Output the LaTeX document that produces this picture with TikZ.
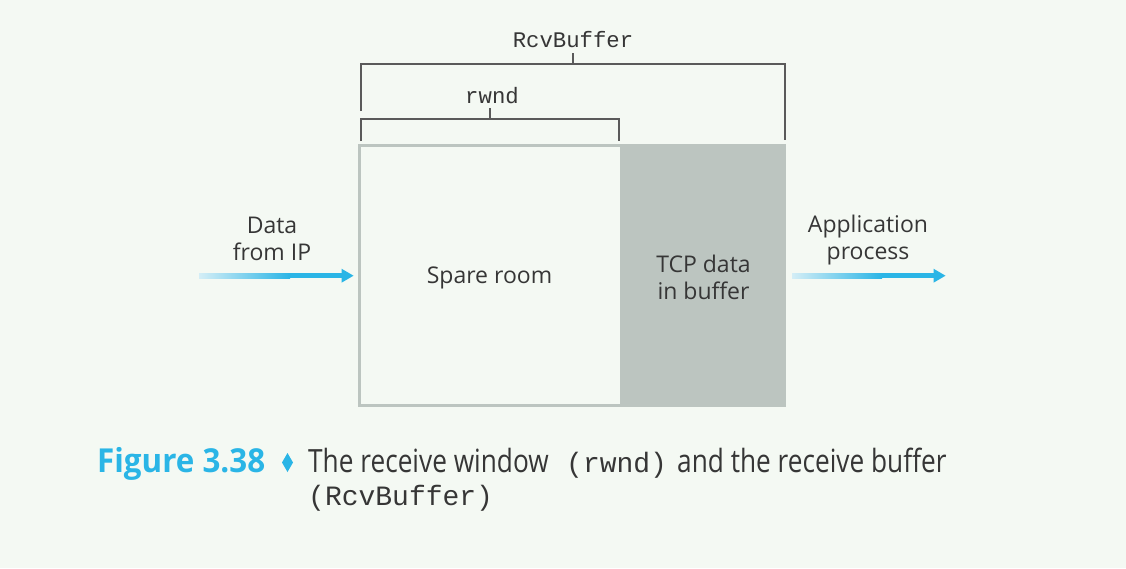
\documentclass[tikz,border=0pt]{standalone}
\usepackage{fontspec}
\setmainfont{Open Sans}
\newfontfamily\monof{Liberation Mono}
\newfontfamily\capf[FakeStretch=0.82]{Open Sans}
\newfontfamily\capbf[FakeStretch=0.95]{Open Sans}
\definecolor{bg}{HTML}{F4F9F3}
\definecolor{boxgray}{HTML}{BCC5C0}
\definecolor{txt}{HTML}{363636}
\definecolor{brk}{HTML}{5A5A5A}
\definecolor{cyanA}{HTML}{2AB5E6}
\definecolor{cyanL}{HTML}{D4EEF6}
\tikzset{
  lbl/.style={text=txt, align=center, font=\fontsize{23}{27}\selectfont, inner sep=0},
  monolbl/.style={text=txt, font=\monof\fontsize{22.3}{24}\selectfont, inner sep=0},
  bracket/.style={draw=brk, line width=1.4pt},
  shaft/.style={left color=cyanL, right color=cyanA},
  head/.style={fill=cyanA},
  captxt/.style={anchor=base west, inner sep=0, text=txt, font=\capf\fontsize{32}{36}\selectfont},
  capmono/.style={anchor=base west, inner sep=0, text=txt, font=\monof\fontsize{28}{32}\selectfont},
}
\begin{document}
\begin{tikzpicture}[x=1pt,y=-1pt]
\fill[bg] (0,0) rectangle (1126,568);
\useasboundingbox (0,0) rectangle (1126,568);
% buffer
\node (spare) [rectangle, fill=bg, minimum width=260.5pt, minimum height=259pt, inner sep=0] at (489.75,275) {};
\node (tcp) [rectangle, fill=boxgray, minimum width=166pt, minimum height=262.5pt, inner sep=0] at (702.5,275.25) {};
\draw[boxgray, line width=3pt] (358,145.5) -- (619.5,145.5);
\draw[boxgray, line width=3pt] (359.5,144) -- (359.5,406.5);
\draw[boxgray, line width=3pt] (358,405) -- (619.5,405);
\node[lbl, anchor=base] at (489.5,283.5) {Spare room};
\node[lbl] at (703.5,277.5) {TCP data\\in buffer};
% brackets
\node (rcv) [monolbl] at (573,40) {RcvBuffer};
\coordinate (rcvL) at (361,111);
\coordinate (rcvR) at (785,140);
\coordinate (rcvT) at (573,53);
\draw[bracket] (rcvL) |- (rcvR |- 0,64) -- (rcvR);
\draw[bracket] (rcvT) -- (rcvT |- 0,64);
\node (rw) [monolbl] at (492,96) {rwnd};
\coordinate (rwL) at (361,141);
\coordinate (rwR) at (619,141);
\coordinate (rwT) at (490,108);
\draw[bracket] (rwL) |- (rwR |- 0,119) -- (rwR);
\draw[bracket] (rwT) -- (rwT |- 0,119);
% input arrow
\node (din) [lbl] at (272,238.6) {Data\\from IP};
\coordinate (a1s) at (199,275.7);
\coordinate (a1e) at (353.5,275.7);
\shade[shaft] ([yshift=2.5pt]a1s) rectangle ([yshift=-2.5pt]a1s -| 290,0);
\fill[cyanA] ([yshift=2.5pt]a1s -| 289.5,0) rectangle ([xshift=-11pt,yshift=-2.5pt]a1e);
\fill[head] (a1e) -- ++(-12,-7) -- ++(0,14) -- cycle;
% output arrow
\node (app) [lbl] at (868,240) {Application\\process};
\coordinate (a2s) at (792,275.7);
\coordinate (a2e) at (945.5,275.7);
\shade[shaft] ([yshift=2.5pt]a2s) rectangle ([yshift=-2.5pt]a2s -| 882,0);
\fill[cyanA] ([yshift=2.5pt]a2s -| 881.5,0) rectangle ([xshift=-11pt,yshift=-2.5pt]a2e);
\fill[head] (a2e) -- ++(-12,-7) -- ++(0,14) -- cycle;
% caption
\node (fig) [anchor=base west, inner sep=0, text=cyanA, font=\capbf\bfseries\fontsize{33}{36}\selectfont] at (97,472) {Figure 3.38};
\fill[cyanA] (287.5,453) -- (293,462.5) -- (287.5,472) -- (282,462.5) -- cycle;
\node (c1) [captxt] at (308,472) {The receive window};
\node (c2) [capmono] at (566,472) {(rwnd)};
\node (c3) [captxt] at (677,472) {and the receive buffer};
\node (c4) [capmono] at (308,505) {(RcvBuffer)};
\end{tikzpicture}
\end{document}
